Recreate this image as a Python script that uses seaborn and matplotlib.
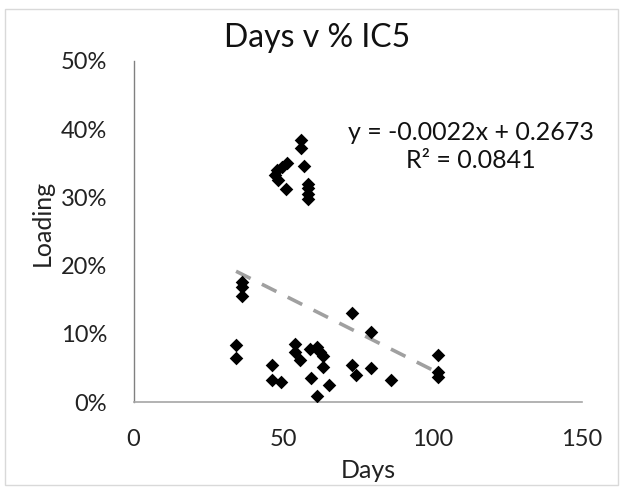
import numpy as np
import pandas as pd
import matplotlib.pyplot as plt
import seaborn as sns
from matplotlib.ticker import PercentFormatter

# values
days = [47.3, 47.9, 48.4, 49.6, 51.3, 51.0, 56.0, 56.0, 57.0,
        58.5, 58.5, 58.5, 58.5,
        36.4, 36.4, 36.4, 34.3, 34.3, 46.4, 46.4, 49.2,
        54.0, 54.0, 55.7, 59.0, 61.3, 62.4, 63.5, 63.3, 59.3, 65.5, 61.3,
        73.0, 73.0, 74.4, 79.3, 79.3, 86.1, 101.9, 101.9, 101.9]
loading = [0.333, 0.340, 0.325, 0.345, 0.350, 0.312, 0.384, 0.372, 0.346,
           0.320, 0.313, 0.305, 0.298,
           0.176, 0.169, 0.156, 0.084, 0.065, 0.055, 0.033, 0.030,
           0.086, 0.074, 0.062, 0.078, 0.081, 0.074, 0.068, 0.052, 0.035, 0.025, 0.009,
           0.130, 0.055, 0.040, 0.103, 0.050, 0.033, 0.069, 0.045, 0.037]
slope = -0.0022
intercept = 0.2673
r2 = 0.0841

df = pd.DataFrame({"Days": days, "Loading": loading})
trend = pd.DataFrame({"Days": [min(days), max(days)]})
trend["Loading"] = slope * trend["Days"] + intercept

sns.set_style("white")
plt.rcParams["font.family"] = ["Lato", "DejaVu Sans"]

W, H = 623, 487
fig = plt.figure(figsize=(W / 100, H / 100), dpi=100)
ax = fig.add_axes([133.5 / W, 1 - 402.3 / H, (582 - 133.5) / W, (402.3 - 60.7) / H])

sns.lineplot(data=trend, x="Days", y="Loading", ax=ax, color="#a0a0a0",
             linewidth=2.6, dashes=False, linestyle=(0, (4.5, 3.5)))
sns.scatterplot(data=df, x="Days", y="Loading", ax=ax, marker="D", s=48,
                color="black", edgecolor="black", linewidth=0, zorder=3)

ax.set_xlim(0, 150)
ax.set_ylim(0, 0.5)
ax.set_xticks([0, 50, 100, 150])
ax.set_yticks(np.arange(0, 0.51, 0.1))
ax.yaxis.set_major_formatter(PercentFormatter(1.0, decimals=0))
ax.tick_params(axis="both", length=0, labelsize=17, colors="#222222")
ax.tick_params(axis="x", pad=19)
ax.tick_params(axis="y", pad=19)

for s in ["top", "right"]:
    ax.spines[s].set_visible(False)
ax.spines["left"].set_color("#808080")
ax.spines["bottom"].set_color("#a6a6a6")
ax.spines["left"].set_linewidth(1)
ax.spines["bottom"].set_linewidth(1.2)

ax.set_xlabel("")
ax.set_ylabel("")
fig.text(368 / W, 1 - 470 / H, "Days", fontsize=18, ha="center", va="center", color="#222222")
fig.text(42 / W, 1 - 223 / H, "Loading", fontsize=18, ha="center", va="center",
         rotation=90, color="#222222")
fig.text(317 / W, 1 - 38 / H, "Days v % IC5", fontsize=23, ha="center", va="center",
         color="#111111")

fig.text(471 / W, 1 - 133 / H, f"y = {slope:.4f}x + {intercept:.4f}", fontsize=18,
         ha="center", va="center", color="#111111")
fig.text(471 / W, 1 - 160 / H, f"R² = {r2:.4f}", fontsize=18,
         ha="center", va="center", color="#111111")

fig.patches.append(plt.Rectangle((0.008, 0.004), 0.984, 0.978, transform=fig.transFigure,
                                 fill=False, edgecolor="#d9d9d9", linewidth=1))

fig.savefig("out.png", dpi=100)
